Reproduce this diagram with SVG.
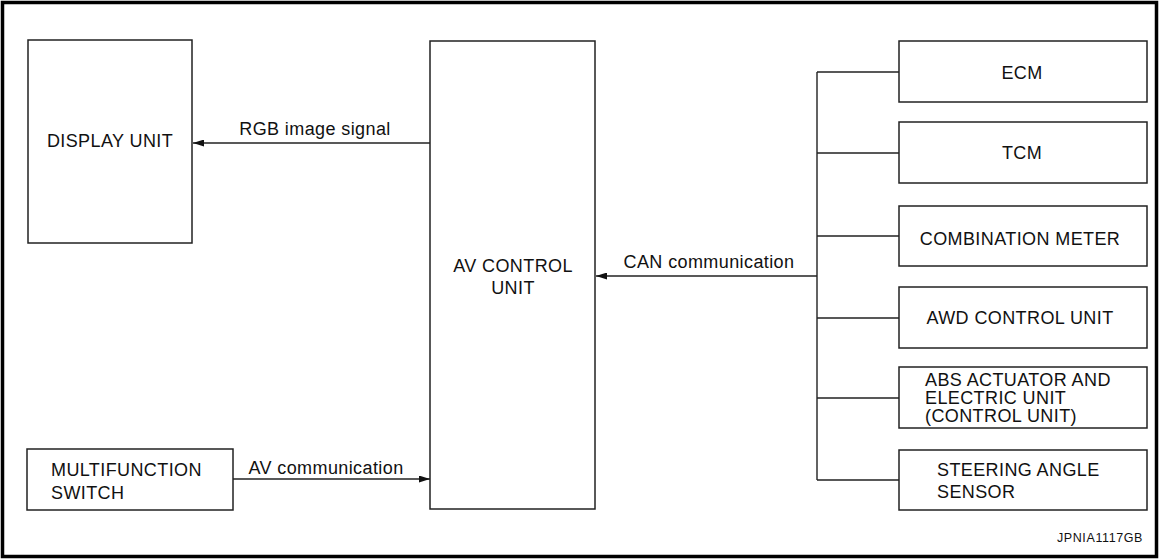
<svg xmlns="http://www.w3.org/2000/svg" width="1159" height="559" viewBox="0 0 1159 559">
  <style>
    .box { fill: #fff; stroke: #222; stroke-width: 1.5; }
    .wire { fill: none; stroke: #222; stroke-width: 1.4; }
    text { font-family: "Liberation Sans", Arial, sans-serif; font-size: 18px; fill: #111; letter-spacing: 0.4px; }
    .c { text-anchor: middle; }
    .id { font-size: 12.5px; letter-spacing: 0.6px; text-anchor: end; }
  </style>
  <defs>
    <marker id="arrow" viewBox="0 0 11 7" refX="11" refY="3.5" markerWidth="11" markerHeight="7" markerUnits="userSpaceOnUse" orient="auto">
      <path d="M0,0 L11,3.5 L0,7 Z" fill="#111"/>
    </marker>
  </defs>

  <rect width="1159" height="559" fill="#fff"/>
  <!-- frame -->
  <rect x="2.5" y="2.5" width="1154" height="554" fill="none" stroke="#000" stroke-width="3.5"/>

  <!-- connectors -->
  <g id="connectors">
    <line class="wire" x1="430" y1="143" x2="193" y2="143" marker-end="url(#arrow)"/>
    <text x="315" y="135" class="c">RGB image signal</text>
    <line class="wire" x1="817" y1="276" x2="596" y2="276" marker-end="url(#arrow)"/>
    <text x="709" y="268" class="c">CAN communication</text>
    <line class="wire" x1="233" y1="479" x2="430" y2="479" marker-end="url(#arrow)"/>
    <text x="326" y="474" class="c">AV communication</text>
    <!-- CAN bus trunk and branches -->
    <path class="wire" d="M817,72 V480 M817,72 H899 M817,153 H899 M817,236 H899 M817,318 H899 M817,398 H899 M817,480 H899"/>
  </g>

  <g id="display-unit">
    <rect class="box" x="28" y="40" width="164" height="203"/>
    <text x="110" y="147" class="c">DISPLAY UNIT</text>
  </g>

  <g id="av-control-unit">
    <rect class="box" x="430" y="41" width="165" height="468"/>
    <text x="513" y="272" class="c">AV CONTROL</text>
    <text x="513" y="294" class="c">UNIT</text>
  </g>

  <g id="multifunction-switch">
    <rect class="box" x="27" y="449" width="206" height="61"/>
    <text x="51" y="476">MULTIFUNCTION</text>
    <text x="51" y="499">SWITCH</text>
  </g>

  <g id="ecm">
    <rect class="box" x="899" y="41" width="248" height="61"/>
    <text x="1022" y="79" class="c">ECM</text>
  </g>

  <g id="tcm">
    <rect class="box" x="899" y="122" width="248" height="61"/>
    <text x="1022" y="159" class="c">TCM</text>
  </g>

  <g id="combination-meter">
    <rect class="box" x="899" y="206" width="248" height="60"/>
    <text x="1020" y="245" class="c">COMBINATION METER</text>
  </g>

  <g id="awd-control-unit">
    <rect class="box" x="899" y="287" width="248" height="61"/>
    <text x="1020" y="324" class="c">AWD CONTROL UNIT</text>
  </g>

  <g id="abs-actuator">
    <rect class="box" x="899" y="367" width="248" height="61"/>
    <text x="925" y="386">ABS ACTUATOR AND</text>
    <text x="925" y="404">ELECTRIC UNIT</text>
    <text x="925" y="422">(CONTROL UNIT)</text>
  </g>

  <g id="steering-angle-sensor">
    <rect class="box" x="899" y="450" width="248" height="60"/>
    <text x="937" y="476">STEERING ANGLE</text>
    <text x="937" y="498">SENSOR</text>
  </g>

  <text x="1143" y="542" class="id">JPNIA1117GB</text>
</svg>
